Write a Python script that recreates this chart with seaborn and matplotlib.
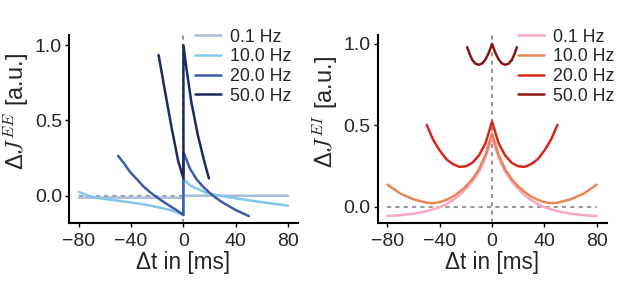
import matplotlib
matplotlib.use("Agg")
import matplotlib.pyplot as plt
import pandas as pd
import seaborn as sns

# values
freqs = ["0.1 Hz", "10.0 Hz", "20.0 Hz", "50.0 Hz"]

# left panel: Delta J^EE vs Delta t (jump at dt = 0)
ee_dt_01 = [-80, -40, -1, 0, 0, 40, 80]
ee_dj_01 = [-0.012, -0.012, -0.013, -0.013, 0.0, 0.0, 0.0]
ee_dt_10 = [-80, -70, -60, -50, -40, -30, -20, -10, -5, 0, 0, 5, 10, 17.5, 22.5, 35, 48, 63, 80]
ee_dj_10 = [0.025, -0.008, -0.022, -0.033, -0.045, -0.058, -0.075, -0.095, -0.11, -0.13,
            0.11, 0.07, 0.048, 0.02, 0.008, -0.01, -0.028, -0.046, -0.066]
ee_dt_20 = [-50, -45, -41, -35, -31, -25, -18, -10, -5, 0, 0, 5, 10, 15, 20, 25, 30, 35, 40, 45, 50]
ee_dj_20 = [0.266, 0.21, 0.16, 0.105, 0.065, 0.02, -0.025, -0.07, -0.097, -0.127,
            0.29, 0.18, 0.11, 0.06, 0.02, -0.015, -0.045, -0.07, -0.095, -0.115, -0.135]
ee_dt_50 = [-19, -14, -9, -4, 0, 0, 2.3, 6, 11, 16, 19.5]
ee_dj_50 = [0.935, 0.69, 0.45, 0.23, 0.115, 1.0, 0.846, 0.624, 0.403, 0.226, 0.115]

# right panel: Delta J^EI vs Delta t
ei_dt_01 = [-80, -70, -60, -50, -40, -35, -30, -25, -20, -15, -10, -5, 0,
            5, 10, 15, 20, 25, 30, 35, 40, 50, 60, 70, 80]
ei_dj_01 = [-0.057, -0.052, -0.043, -0.028, -0.003, 0.015, 0.04, 0.07, 0.11, 0.155, 0.215, 0.30, 0.425,
            0.30, 0.215, 0.155, 0.11, 0.07, 0.04, 0.015, -0.003, -0.028, -0.043, -0.052, -0.057]
ei_dt_10 = [-80, -70, -60, -50, -45, -40, -35, -30, -25, -20, -15, -10, -5, 0,
            5, 10, 15, 20, 25, 30, 35, 40, 45, 50, 60, 70, 80]
ei_dj_10 = [0.135, 0.08, 0.045, 0.024, 0.022, 0.028, 0.042, 0.062, 0.09, 0.125, 0.17, 0.23, 0.32, 0.45,
            0.32, 0.23, 0.17, 0.125, 0.09, 0.062, 0.042, 0.028, 0.022, 0.024, 0.045, 0.08, 0.135]
ei_dt_20 = [-50, -45, -40, -35, -30, -25, -20, -15, -10, -5, 0,
            5, 10, 15, 20, 25, 30, 35, 40, 45, 50]
ei_dj_20 = [0.503, 0.41, 0.345, 0.292, 0.262, 0.245, 0.248, 0.27, 0.315, 0.39, 0.523,
            0.39, 0.315, 0.27, 0.248, 0.245, 0.262, 0.292, 0.345, 0.41, 0.503]
ei_dt_50 = [-19, -17, -15, -12.5, -10, -7.5, -5, -2.5, 0, 2.5, 5, 7.5, 10, 12.5, 15, 17, 19]
ei_dj_50 = [0.98, 0.935, 0.9, 0.878, 0.872, 0.88, 0.905, 0.945, 1.0,
            0.945, 0.905, 0.88, 0.872, 0.878, 0.9, 0.935, 0.98]

blues = ["#a9bcd8", "#82c8ee", "#3c5ca8", "#1b2a60"]
reds = ["#f4a9bd", "#eb8458", "#d9261c", "#8a1414"]


def make_df(dts, djs):
    rows = []
    for f, dt, dj in zip(freqs, dts, djs):
        for i, (x, y) in enumerate(zip(dt, dj)):
            rows.append({"dt": x, "dJ": y, "freq": f, "order": i})
    return pd.DataFrame(rows)


df_ee = make_df([ee_dt_01, ee_dt_10, ee_dt_20, ee_dt_50], [ee_dj_01, ee_dj_10, ee_dj_20, ee_dj_50])
df_ei = make_df([ei_dt_01, ei_dt_10, ei_dt_20, ei_dt_50], [ei_dj_01, ei_dj_10, ei_dj_20, ei_dj_50])

sns.set_style("ticks")
plt.rcParams["font.family"] = ["Liberation Sans", "DejaVu Sans"]
plt.rcParams["mathtext.fontset"] = "cm"

fig = plt.figure(figsize=(6.17, 2.94), dpi=100)
ax1 = fig.add_axes([0.1118, 0.2405, 0.371, 0.640])
ax2 = fig.add_axes([0.612, 0.2405, 0.371, 0.640])

panels = [
    (ax1, df_ee, blues, "Δ$J^{EE}$ [a.u.]", (-0.183, 1.067), 0.972, -0.165),
    (ax2, df_ei, reds, "Δ$J^{EI}$ [a.u.]", (-0.102, 1.054), 1.036, -0.165),
]

for ax, d, pal, ylab, ylim, lx, ylx in panels:
    ax.hlines(0, -80, 80, colors="#999999", linestyles=(0, (2, 2)), lw=1.5, zorder=1)
    ax.axvline(0, color="#999999", ls=(0, (2, 2)), lw=1.5, zorder=1)
    sns.lineplot(data=d, x="dt", y="dJ", hue="freq", palette=pal, sort=False,
                 estimator=None, units="freq", lw=1.8, ax=ax, zorder=3)
    ax.set_xlim(-87.5, 87.5)
    ax.set_ylim(*ylim)
    ax.set_xticks([-80, -40, 0, 40, 80])
    ax.set_yticks([0, 0.5, 1.0])
    ax.set_yticklabels(["0.0", "0.5", "1.0"])
    ax.tick_params(labelsize=14, length=3, width=1, color="black", pad=2)
    ax.tick_params(axis="x", pad=4)
    ax.set_xlabel("Δt in [ms]", fontsize=16.3, labelpad=1)
    ax.set_ylabel(ylab, fontsize=17)
    ax.yaxis.set_label_coords(ylx, 0.593)
    for s in ["left", "bottom"]:
        ax.spines[s].set_linewidth(1.5)
        ax.spines[s].set_color("black")
    sns.despine(ax=ax)
    handles, labels = ax.get_legend_handles_labels()
    ax.legend(handles, labels, loc="upper right", bbox_to_anchor=(lx, 1.035),
              frameon=False, fontsize=12.8, labelspacing=0.15, handlelength=1.5,
              handletextpad=0.5, borderpad=0, borderaxespad=0)

fig.savefig("out.png", dpi=100)
